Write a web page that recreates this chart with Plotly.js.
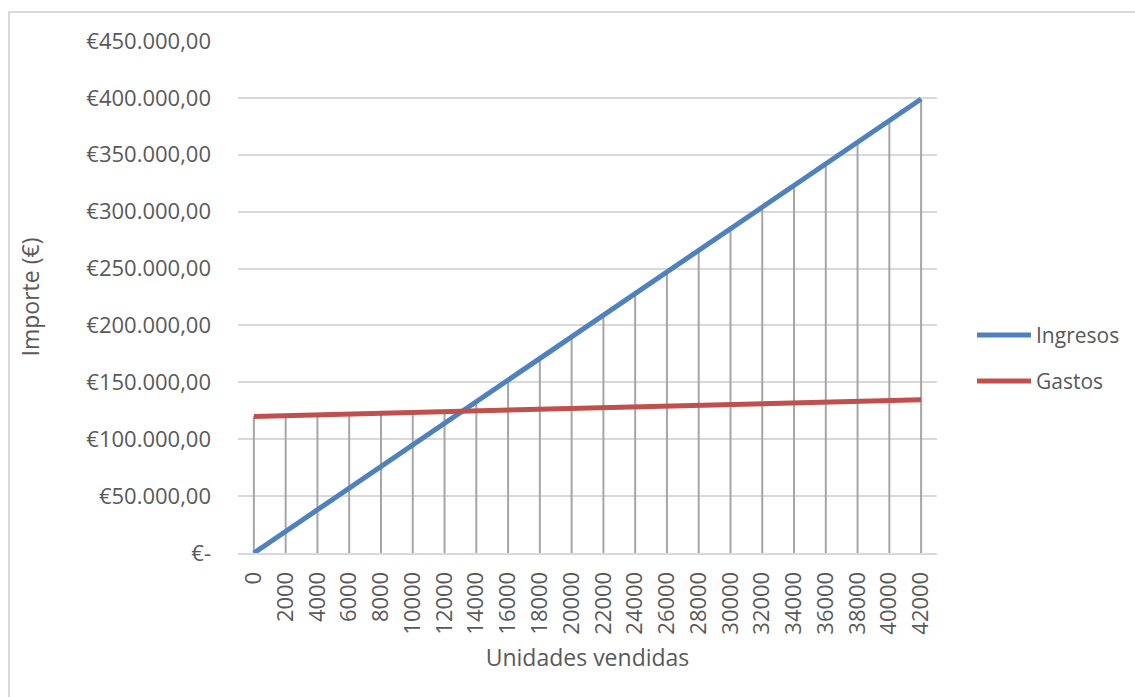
<!DOCTYPE html>
<html>
<head>
<meta charset="utf-8">
<script src="https://cdn.plot.ly/plotly-3.0.1.min.js"></script>
<style>
  html, body { margin: 0; padding: 0; background: #ffffff; overflow: hidden; }
  #frame { position: absolute; left: 8px; top: 11px; width: 2000px; height: 2000px;
           border-left: 2px solid #d9d9d9; border-top: 2px solid #d9d9d9; pointer-events: none; }
  #chart { position: absolute; left: 0; top: 0; width: 1135px; height: 697px; }
</style>
</head>
<body>
<div id="frame"></div>
<div id="chart"></div>
<script>
// Data
const unidades = [0, 2000, 4000, 6000, 8000, 10000, 12000, 14000, 16000, 18000, 20000,
                  22000, 24000, 26000, 28000, 30000, 32000, 34000, 36000, 38000, 40000, 42000];
const ingresos = [0, 19000, 38000, 57000, 76000, 95000, 114000, 133000, 152000, 171000, 190000,
                  209000, 228000, 247000, 266000, 285000, 304000, 323000, 342000, 361000, 380000, 399000];
const gastos   = [120000, 120700, 121400, 122100, 122800, 123500, 124200, 124900, 125600, 126300, 127000,
                  127700, 128400, 129100, 129800, 130500, 131200, 131900, 132600, 133300, 134000, 134700];
const seriesNames = ["Ingresos", "Gastos"];
const seriesColors = ["#4f81bd", "#c0504d"];
const yTickVals = [0, 50000, 100000, 150000, 200000, 250000, 300000, 350000, 400000, 450000];
const yTickText = ["€-", "€50.000,00", "€100.000,00", "€150.000,00", "€200.000,00",
                   "€250.000,00", "€300.000,00", "€350.000,00", "€400.000,00", "€450.000,00"];
const xTickText = unidades.map(String);

// Drop lines (Excel-style): from the highest point of each category down to the axis
const dropX = [], dropY = [];
unidades.forEach((u, i) => {
  dropX.push(u, u, null);
  dropY.push(0, Math.max(ingresos[i], gastos[i]), null);
});

const FONT = "'Open Sans', 'Liberation Sans', sans-serif";
const GREY_TXT = "#595959";

const traces = [
  { x: dropX, y: dropY, type: "scatter", mode: "lines", showlegend: false, hoverinfo: "skip",
    line: { color: "#a6a6a6", width: 2 } },
  { x: unidades, y: ingresos, type: "scatter", mode: "lines", name: seriesNames[0], showlegend: false,
    line: { color: seriesColors[0], width: 5 } },
  { x: unidades, y: gastos, type: "scatter", mode: "lines", name: seriesNames[1], showlegend: false,
    line: { color: seriesColors[1], width: 5 } }
];

// Excel-style legend on the right (line sample + label)
const legendY = [0.4258, 0.3359];
const shapes = seriesNames.map((n, i) => ({
  type: "line", xref: "paper", yref: "paper",
  x0: 1.0572, x1: 1.1345, y0: legendY[i], y1: legendY[i],
  line: { color: seriesColors[i], width: 5 }
}));
const annotations = seriesNames.map((n, i) => ({
  text: n, xref: "paper", yref: "paper", x: 1.1388, y: legendY[i],
  xanchor: "left", yanchor: "middle", showarrow: false,
  font: { family: FONT, size: 21, color: GREY_TXT }
}));

const layout = {
  width: 1135, height: 697,
  margin: { l: 238, r: 198, t: 41, b: 144, autoexpand: false },
  paper_bgcolor: "rgba(0,0,0,0)",
  plot_bgcolor: "#ffffff",
  font: { family: FONT, color: GREY_TXT, size: 21 },
  xaxis: {
    range: [-1000, 43000],
    tickmode: "array", tickvals: unidades, ticktext: xTickText,
    tickangle: -90,
    tickfont: { family: FONT, size: 22, color: GREY_TXT },
    showgrid: false, zeroline: false,
    showline: true, linecolor: "#d9d9d9", linewidth: 2,
    ticks: "", ticklabelstandoff: 8,
    automargin: false,
    title: { text: "Unidades vendidas", font: { family: FONT, size: 23, color: GREY_TXT }, standoff: 16 }
  },
  yaxis: {
    range: [0, 450000],
    tickmode: "array", tickvals: yTickVals, ticktext: yTickText,
    tickfont: { family: FONT, size: 22, color: GREY_TXT },
    showgrid: true, gridcolor: "#d9d9d9", gridwidth: 2,
    zeroline: false, showline: false, ticks: "",
    ticklabelstandoff: 26,
    automargin: false,
    title: { text: "Importe (€)", font: { family: FONT, size: 23, color: GREY_TXT }, standoff: 40 }
  },
  shapes: shapes,
  annotations: annotations,
  showlegend: false
};

Plotly.newPlot("chart", traces, layout, { displayModeBar: false, staticPlot: true });
</script>
</body>
</html>
